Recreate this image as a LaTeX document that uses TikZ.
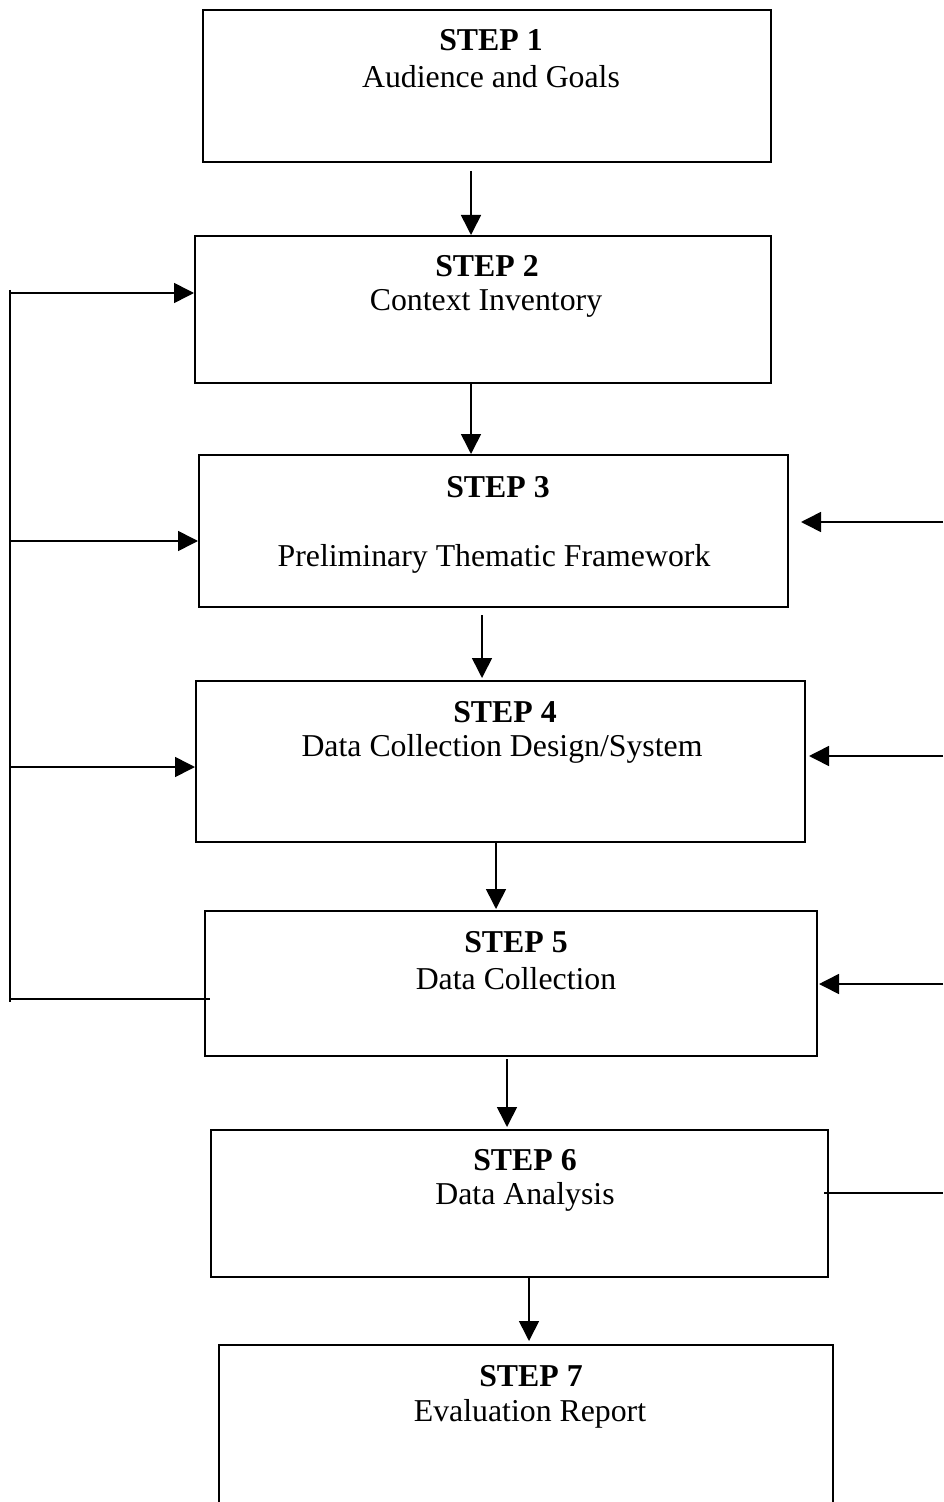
\documentclass[tikz,border=0pt]{standalone}
\usepackage{fontspec}
\setmainfont{Liberation Serif}
\usetikzlibrary{arrows.meta,calc}
\begin{document}
\begin{tikzpicture}[x=0.5pt,y=-0.5pt,
  stepbox/.style={draw,line width=1pt,inner sep=0pt},
  arr/.style={line width=0.8pt,-{Triangle[length=10pt,width=10pt]}},
  link/.style={line width=0.8pt},
  rail/.style={line width=1.4pt},
  head/.style={font=\fontsize{15.9}{19}\selectfont\bfseries,inner sep=0pt},
  title/.style={font=\fontsize{15.9}{19}\selectfont,inner sep=0pt}]
\useasboundingbox (0,0) rectangle (943,1502);
\clip (0,0) rectangle (943,1502);

% boxes
\node[stepbox] (b1) at (487,86) [minimum width=284pt,minimum height=76pt] {};
\node[stepbox] (b2) at (483,309.5) [minimum width=288pt,minimum height=73.5pt] {};
\node[stepbox] (b3) at (493.5,531) [minimum width=294.5pt,minimum height=76pt] {};
\node[stepbox] (b4) at (500.5,761.5) [minimum width=304.5pt,minimum height=80.5pt] {};
\node[stepbox] (b5) at (511,983.5) [minimum width=306pt,minimum height=72.5pt] {};
\node[stepbox] (b6) at (519.5,1203.5) [minimum width=308.5pt,minimum height=73.5pt] {};
\node[stepbox] (b7) at (526,1427.5) [minimum width=307pt,minimum height=82.5pt] {};

% texts
\node[head]  (h1) at (491,40)   {STEP 1};
\node[title] (t1) at (491,77)   {Audience and Goals};
\node[head]  (h2) at (487,266)  {STEP 2};
\node[title] (t2) at (486,303)  {Context Inventory};
\node[head]  (h3) at (498,487)  {STEP 3};
\node[title] (t3) at (494,559)  {Preliminary Thematic Framework};
\node[head]  (h4) at (505,712)  {STEP 4};
\node[title] (t4) at (502,749)  {Data Collection Design/System};
\node[head]  (h5) at (516,942)  {STEP 5};
\node[title] (t5) at (516,979)  {Data Collection};
\node[head]  (h6) at (525,1160) {STEP 6};
\node[title] (t6) at (525,1197) {Data Analysis};
\node[head]  (h7) at (531,1376) {STEP 7};
\node[title] (t7) at (530,1414) {Evaluation Report};

% downward arrows between steps
\coordinate (c12) at (471,0);
\coordinate (c23) at (471,0);
\coordinate (c34) at (482,0);
\coordinate (c45) at (496,0);
\coordinate (c56) at (507,0);
\coordinate (c67) at (529,0);
\draw[arr] ([yshift=-4pt]b1.south -| c12) -- (b2.north -| c12);
\draw[arr] (b2.south -| c23) -- (b3.north -| c23);
\draw[arr] ([yshift=-3.5pt]b3.south -| c34) -- ([yshift=1pt]b4.north -| c34);
\draw[arr] (b4.south -| c45) -- ([yshift=0.5pt]b5.north -| c45);
\draw[arr] ([yshift=-1pt]b5.south -| c56) -- ([yshift=1pt]b6.north -| c56);
\draw[arr] (b6.south -| c67) -- ([yshift=1.5pt]b7.north -| c67);

% left feedback rail from step 5
\coordinate (Ltop) at (10,290);
\coordinate (Lbot) at (10,1002);
\coordinate (L5) at (10,999);
\draw[rail] (Ltop) -- (Lbot);
\draw[link] (L5) -- ([xshift=3pt]b5.west |- L5);
\coordinate (L2) at (10,293);
\coordinate (L3) at (10,541);
\coordinate (L4) at (10,767);
\draw[arr] (L2) -- (b2.west |- L2);
\draw[arr] (L3) -- (b3.west |- L3);
\draw[arr] (L4) -- (b4.west |- L4);

% right feedback from step 6
\coordinate (R6) at (943,1193);
\draw[link] ([xshift=-2.5pt]b6.east |- R6) -- (R6);
\coordinate (R3) at (943,522);
\coordinate (R4) at (943,756);
\coordinate (R5) at (943,984);
\draw[arr] (R3) -- ([xshift=6pt]b3.east |- R3);
\draw[arr] (R4) -- ([xshift=1.5pt]b4.east |- R4);
\draw[arr] (R5) -- ([xshift=0.5pt]b5.east |- R5);
\end{tikzpicture}
\end{document}
